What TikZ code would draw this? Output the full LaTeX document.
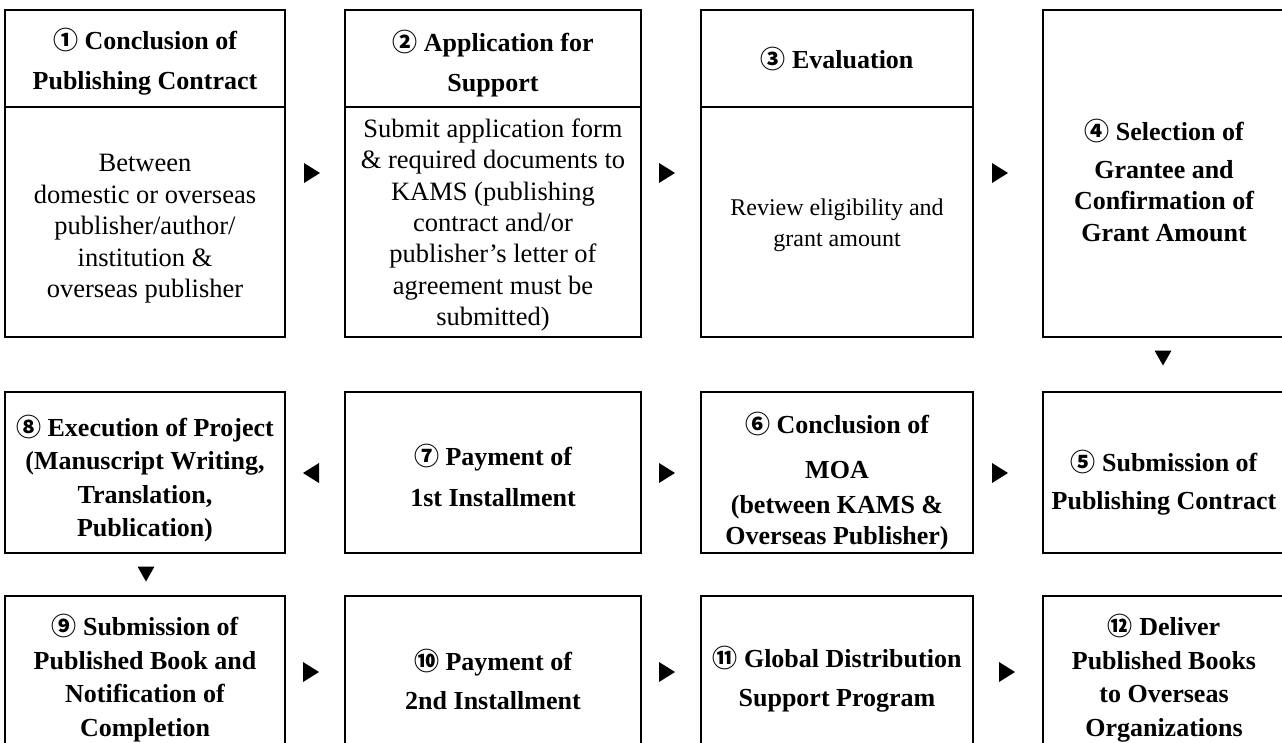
\documentclass[tikz,border=0pt]{standalone}
\usepackage{fontspec}
\setmainfont{Liberation Serif}
\newfontfamily\cjk{Noto Sans CJK KR}
\usetikzlibrary{calc}
\newcommand\cnum[1]{{\cjk\fontsize{25}{25}\selectfont #1}}
\tikzset{
  box/.style={draw, line width=1.2pt, inner sep=0pt},
  txt/.style={align=center, inner sep=0pt},
  hdr/.style={txt, font=\bfseries\fontsize{26}{40}\selectfont},
  bodytxt/.style={txt, font=\fontsize{26.5}{31.5}\selectfont},
  rtri/.pic={\fill (-8,-10) -- (8,0) -- (-8,10) -- cycle;},
  ltri/.pic={\fill (8,-10) -- (-8,0) -- (8,10) -- cycle;},
  dtri/.pic={\fill (-8.5,-7.5) -- (8.5,-7.5) -- (0,7.5) -- cycle;},
}
\begin{document}
\begin{tikzpicture}[x=1pt,y=-1pt]
\useasboundingbox (0,0) rectangle (1282,742);
\clip (0,0) rectangle (1282,742);
% ---- row 1 boxes
\node[box,minimum width=280pt,minimum height=97pt] (b1h) at (145,58.5) {};
\node[box,minimum width=280pt,minimum height=230pt] (b1b) at (145,222) {};
\node[box,minimum width=296pt,minimum height=97pt] (b2h) at (493,58.5) {};
\node[box,minimum width=296pt,minimum height=230pt] (b2b) at (493,222) {};
\node[box,minimum width=272pt,minimum height=97pt] (b3h) at (837,58.5) {};
\node[box,minimum width=272pt,minimum height=230pt] (b3b) at (837,222) {};
\node[box,minimum width=242pt,minimum height=327pt] (b4) at (1164,173.5) {};
% ---- row 1 texts
\node[hdr] (t1h) at ($(b1h.center)+(0,3)$) {\cnum{①} Conclusion of\\Publishing Contract};
\node[bodytxt] (t1b) at ($(b1b.center)+(0,7)$) {Between\\domestic or overseas\\publisher/author/\\institution \&\\overseas publisher};
\node[hdr] (t2h) at ($(b2h.center)+(0,5)$) {\cnum{②} Application for\\Support};
\node[bodytxt,font=\fontsize{26.5}{31.3}\selectfont] (t2b) at ($(b2b.center)+(0,3)$) {Submit application form\\\& required documents to\\KAMS (publishing\\contract and/or\\publisher’s letter of\\agreement must be\\submitted)};
\node[hdr] (t3h) at (b3h.center) {\cnum{③} Evaluation};
\node[txt,font=\fontsize{24}{31}\selectfont] (t3b) at ($(b3b.center)+(0,3)$) {Review eligibility and\\grant amount};
\node[txt,font=\bfseries\fontsize{26}{31.5}\selectfont] (t4) at ($(b4.center)+(0,7)$) {\cnum{④} Selection of\\[6pt]Grantee and\\Confirmation of\\Grant Amount};
% ---- row 2
\node[box,minimum width=280pt,minimum height=161pt] (b8) at (145,472.5) {};
\node[box,minimum width=296pt,minimum height=161pt] (b7) at (493,472.5) {};
\node[box,minimum width=272pt,minimum height=161pt] (b6) at (837,472.5) {};
\node[box,minimum width=242pt,minimum height=161pt] (b5) at (1164,472.5) {};
\node[txt,font=\bfseries\fontsize{26}{33.5}\selectfont] (t8) at ($(b8.center)+(0,6)$) {\cnum{⑧} Execution of Project\\(Manuscript Writing,\\Translation,\\Publication)};
\node[txt,font=\bfseries\fontsize{26}{41}\selectfont] (t7) at ($(b7.center)+(0,3)$) {\cnum{⑦} Payment of\\1st Installment};
\node[txt,font=\bfseries\fontsize{26}{31}\selectfont] (t6) at ($(b6.center)+(0,8.5)$) {\cnum{⑥} Conclusion of\\[14pt]MOA\\[4pt](between KAMS \&\\Overseas Publisher)};
\node[txt,font=\bfseries\fontsize{26}{38}\selectfont] (t5) at ($(b5.center)+(0,10)$) {\cnum{⑤} Submission of\\Publishing Contract};
% ---- row 3
\node[box,minimum width=280pt,minimum height=166pt] (b9) at (145,679) {};
\node[box,minimum width=296pt,minimum height=166pt] (b10) at (493,679) {};
\node[box,minimum width=272pt,minimum height=166pt] (b11) at (837,679) {};
\node[box,minimum width=242pt,minimum height=166pt] (b12) at (1164,679) {};
\node[txt,font=\bfseries\fontsize{26}{33.5}\selectfont] (t9) at ($(b9.center)+(0,-1)$) {\cnum{⑨} Submission of\\Published Book and\\Notification of\\Completion};
\node[txt,font=\bfseries\fontsize{26}{39}\selectfont] (t10) at (b10.center) {\cnum{⑩} Payment of\\2nd Installment};
\node[txt,font=\bfseries\fontsize{26}{39}\selectfont] (t11) at (b11.center) {\cnum{⑪} Global Distribution\\Support Program};
\node[txt,font=\bfseries\fontsize{26}{33.5}\selectfont] (t12) at ($(b12.center)+(0,-1)$) {\cnum{⑫} Deliver\\Published Books\\to Overseas\\Organizations};
% ---- arrows
\pic at (312,173) {rtri};
\pic at (667,173) {rtri};
\pic at (1000,173) {rtri};
\pic at (1163,358) {dtri};
\pic at (311,473) {ltri};
\pic at (667,473) {rtri};
\pic at (1000,473) {rtri};
\pic at (146,574) {dtri};
\pic at (311,672) {rtri};
\pic at (667,672) {rtri};
\pic at (1007,672) {rtri};
\end{tikzpicture}
\end{document}
